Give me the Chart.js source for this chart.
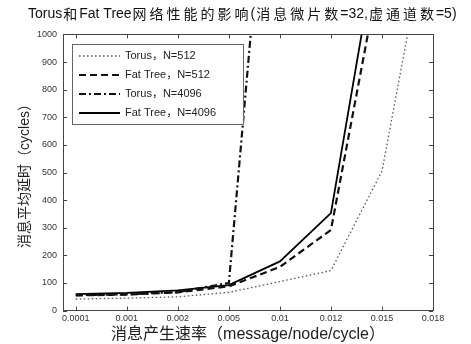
<!DOCTYPE html>
<html><head><meta charset="utf-8">
<script src="https://cdn.jsdelivr.net/npm/chart.js@4.4.1/dist/chart.umd.min.js"></script>
<style>html,body{margin:0;padding:0;background:#fff}#wrap{width:471px;height:344px}</style>
</head><body><div id="wrap"><canvas id="c" width="471" height="344"></canvas></div>
<script>
const categories = ["0.0001","0.001","0.002","0.005","0.01","0.012","0.015","0.018"];
const xPositions = [1,2,3,4,5,6,7,8];
const torus512 = [42, 45, 50, 66, 105, 145, 505, 1490];
const fatTree512 = [55, 58, 66, 88, 158, 292, 1270, null];
const torus4096 = [56, 59, 67, 100, 2200, null, null, null];
const fatTree4096 = [60, 64, 73, 92, 178, 353, 1430, null];
const yTicks = [0,100,200,300,400,500,600,700,800,900,1000];
const seriesNames = ["Torus，N=512","Fat Tree，N=512","Torus，N=4096","Fat Tree，N=4096"];
const chartTitle = 'Torus和Fat Tree网络性能的影响(消息微片数=32,虚通道数=5)';

const LATIN = "'Liberation Sans', Arial, sans-serif";
const FONT = "'Liberation Sans', Arial, 'Noto Sans CJK SC', sans-serif";
function pts(arr){ return arr.map((v,i)=>({x:xPositions[i], y:v})); }

const styles = [
  {borderColor:'#555', borderWidth:1.3, borderDash:[1.5,2.5]},
  {borderColor:'#111', borderWidth:2.2, borderDash:[7,4]},
  {borderColor:'#111', borderWidth:2.2, borderDash:[7,3,2,3]},
  {borderColor:'#000', borderWidth:1.8, borderDash:[]}
];
const allData = [torus512, fatTree512, torus4096, fatTree4096];

const framePlugin = {
  id:'frame',
  afterDatasetsDraw(chart){
    const {ctx, chartArea:a, scales:{x,y}} = chart;
    ctx.save();
    ctx.strokeStyle='#444'; ctx.lineWidth=1; ctx.setLineDash([]);
    ctx.strokeRect(Math.round(a.left)+0.5, Math.round(a.top)+0.5, Math.round(a.right-a.left), Math.round(a.bottom-a.top));
    ctx.beginPath();
    xPositions.forEach(v=>{const px=Math.round(x.getPixelForValue(v))+0.5;
      ctx.moveTo(px,a.bottom); ctx.lineTo(px,a.bottom-4);
      ctx.moveTo(px,a.top); ctx.lineTo(px,a.top+4);});
    yTicks.forEach(v=>{const py=Math.round(y.getPixelForValue(v))+0.5;
      ctx.moveTo(a.left,py); ctx.lineTo(a.left+4,py);
      ctx.moveTo(a.right,py); ctx.lineTo(a.right-4,py);});
    ctx.stroke();
    // legend
    const lx=Math.round(a.left+9), ly=Math.round(a.top+10), lw=171, lh=80;
    ctx.fillStyle='#fff'; ctx.fillRect(lx,ly,lw,lh);
    ctx.strokeStyle='#666'; ctx.strokeRect(lx+0.5,ly+0.5,lw,lh);
    ctx.font="11px "+FONT; ctx.textBaseline='middle'; ctx.fillStyle='#222';
    chart.data.datasets.forEach((ds,i)=>{
      const yy = ly+12+i*19;
      ctx.beginPath(); ctx.strokeStyle=ds.borderColor; ctx.lineWidth=ds.borderWidth;
      ctx.setLineDash(ds.borderDash||[]);
      ctx.moveTo(lx+7,yy); ctx.lineTo(lx+48,yy); ctx.stroke();
      ctx.setLineDash([]);
      ctx.fillText(ds.label, lx+53, yy);
    });
    ctx.restore();
  },
  afterDraw(chart){
    const ctx = chart.ctx;
    ctx.save();
    ctx.fillStyle='#111'; ctx.textBaseline='middle'; ctx.textAlign='left';
    const parts = chartTitle.split(/([\u3000-\u9fff\uff00-\uffef]+)/).filter(s=>s.length);
    let xx = 28;
    parts.forEach(p=>{
      const cjk = /[\u3000-\u9fff\uff00-\uffef]/.test(p);
      if (cjk) {
        ctx.font = "14px 'Noto Sans CJK SC', sans-serif";
        for (const ch of p) { ctx.fillText(ch, xx+1, 14); xx += 17; }
      } else {
        ctx.font = "14px "+LATIN;
        ctx.fillText(p, xx, 14); xx += ctx.measureText(p).width;
      }
    });
    ctx.restore();
  }
};

new Chart(document.getElementById('c'), {
  type:'line',
  data:{datasets: allData.map((d,i)=>Object.assign({label:seriesNames[i], data:pts(d), pointRadius:0, fill:false, tension:0, spanGaps:false}, styles[i]))},
  options:{
    responsive:false, animation:false,
    layout:{padding:{left:14,right:38,top:34.4,bottom:0}},
    plugins:{ legend:{display:false}, tooltip:{enabled:false}, title:{display:false} },
    scales:{
      x:{type:'linear', min:0.75, max:8,
        afterBuildTicks(s){ s.ticks = xPositions.map(v=>({value:v})); },
        afterFit(s){ s.height = 33.4; },
        ticks:{callback:(v)=>{const i=xPositions.indexOf(v); return i>=0?categories[i]:'';}, color:'#333', font:{family:FONT,size:9}, padding:3, maxRotation:0, autoSkip:false},
        grid:{display:false, drawTicks:false}, border:{display:false},
        title:{display:true, text:'消息产生速率（message/node/cycle）', color:'#222', font:{family:FONT,size:16}, padding:{top:0,bottom:0}}
      },
      y:{min:0, max:1000,
        afterBuildTicks(s){ s.ticks = yTicks.map(v=>({value:v})); },
        afterFit(s){ s.width = 49; },
        ticks:{color:'#333', font:{family:FONT,size:9}, padding:6, callback:(v)=>String(v)},
        grid:{display:false, drawTicks:false}, border:{display:false},
        title:{display:true, text:'消息平均延时（cycles）', color:'#222', font:{family:FONT,size:14}, padding:{top:3,bottom:0}}
      }
    }
  },
  plugins:[framePlugin]
});
</script></body></html>
